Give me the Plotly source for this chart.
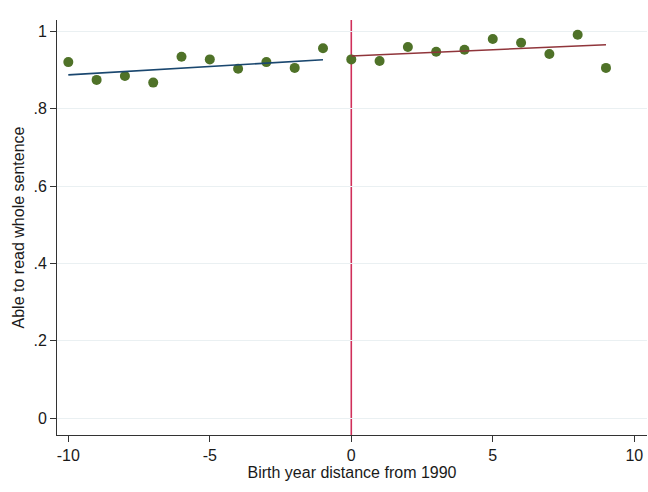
import plotly.graph_objects as go

x_left = [-10, -9, -8, -7, -6, -5, -4, -3, -2, -1]
y_left = [0.921, 0.875, 0.885, 0.868, 0.935, 0.928, 0.904, 0.921, 0.906, 0.957]
x_right = [0, 1, 2, 3, 4, 5, 6, 7, 8, 9]
y_right = [0.928, 0.924, 0.960, 0.948, 0.953, 0.981, 0.971, 0.942, 0.992, 0.906]

fit_left_x = [-10, -1]
fit_left_y = [0.888, 0.927]
fit_right_x = [0, 9]
fit_right_y = [0.937, 0.966]

y_tickvals = [0, 0.2, 0.4, 0.6, 0.8, 1]
y_ticktext = ["0", ".2", ".4", ".6", ".8", "1"]
x_tickvals = [-10, -5, 0, 5, 10]
x_ticktext = ["-10", "-5", "0", "5", "10"]

marker_color = "#4f7228"

fig = go.Figure()
fig.add_trace(go.Scatter(x=x_left + x_right, y=y_left + y_right, mode="markers",
                         marker=dict(color=marker_color, size=10), showlegend=False))
fig.add_trace(go.Scatter(x=fit_left_x, y=fit_left_y, mode="lines",
                         line=dict(color="#1a476f", width=1.6), showlegend=False))
fig.add_trace(go.Scatter(x=fit_right_x, y=fit_right_y, mode="lines",
                         line=dict(color="#90353b", width=1.6), showlegend=False))

fig.add_shape(type="line", x0=0, x1=0, y0=0, y1=1, xref="x", yref="paper",
              line=dict(color="#d02f5a", width=1.6), layer="below")

font = dict(family="Liberation Sans, Arial, Helvetica, sans-serif", size=16, color="#1a1a1a")

fig.update_layout(
    width=648, height=492,
    margin=dict(l=57, r=1, t=20, b=57),
    paper_bgcolor="white", plot_bgcolor="white",
    font=font,
    xaxis=dict(range=[-10.4, 10.45], tickvals=x_tickvals, ticktext=x_ticktext,
               showgrid=False, zeroline=False, showline=True, linecolor="#333333",
               linewidth=1, ticks="outside", ticklen=6, tickcolor="#333333",
               automargin=False, ticklabelstandoff=0,
               title=dict(text="Birth year distance from 1990", font=font, standoff=0)),
    yaxis=dict(range=[-0.044, 1.03], tickvals=y_tickvals, ticktext=y_ticktext,
               showgrid=True, gridcolor="#eaf0f2", gridwidth=1, zeroline=False,
               showline=True, linecolor="#333333", linewidth=1,
               ticks="outside", ticklen=6, tickcolor="#333333",
               automargin=False, ticklabelstandoff=0,
               title=dict(text="Able to read whole sentence", font=font, standoff=4)),
)

fig.write_html("out.html", config={"displayModeBar": False},
               post_script="document.body.style.margin='0';")
